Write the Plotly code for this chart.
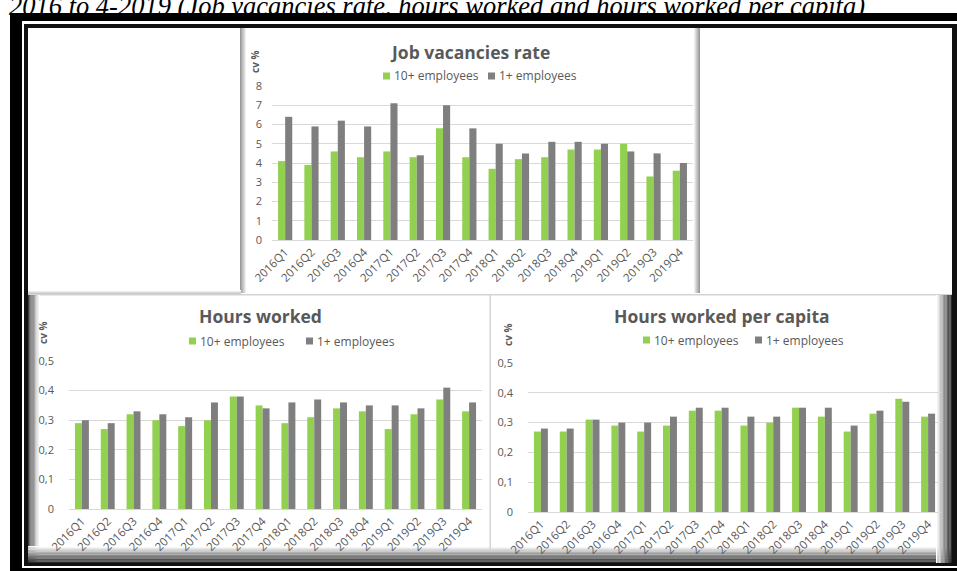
import plotly.graph_objects as go

# ---- data -------------------------------------------------------------
quarters = ["2016Q1", "2016Q2", "2016Q3", "2016Q4",
            "2017Q1", "2017Q2", "2017Q3", "2017Q4",
            "2018Q1", "2018Q2", "2018Q3", "2018Q4",
            "2019Q1", "2019Q2", "2019Q3", "2019Q4"]

series_names = ["10+ employees", "1+ employees"]

# Job vacancies rate, cv %
jv_10 = [4.1, 3.9, 4.6, 4.3, 4.6, 4.3, 5.8, 4.3, 3.7, 4.2, 4.3, 4.7, 4.7, 5.0, 3.3, 3.6]
jv_1 = [6.4, 5.9, 6.2, 5.9, 7.1, 4.4, 7.0, 5.8, 5.0, 4.5, 5.1, 5.1, 5.0, 4.6, 4.5, 4.0]

# Hours worked, cv %
hw_10 = [0.29, 0.27, 0.32, 0.30, 0.28, 0.30, 0.38, 0.35, 0.29, 0.31, 0.34, 0.33, 0.27, 0.32, 0.37, 0.33]
hw_1 = [0.30, 0.29, 0.33, 0.32, 0.31, 0.36, 0.38, 0.34, 0.36, 0.37, 0.36, 0.35, 0.35, 0.34, 0.41, 0.36]

# Hours worked per capita, cv %
hpc_10 = [0.27, 0.27, 0.31, 0.29, 0.27, 0.29, 0.34, 0.34, 0.29, 0.30, 0.35, 0.32, 0.27, 0.33, 0.38, 0.32]
hpc_1 = [0.28, 0.28, 0.31, 0.30, 0.30, 0.32, 0.35, 0.35, 0.32, 0.32, 0.35, 0.35, 0.29, 0.34, 0.37, 0.33]

caption = "2016 to 4-2019 (Job vacancies rate, hours worked and hours worked per capita)"

# ---- styling ----------------------------------------------------------
W, H = 957, 571
GREEN = "#92D050"
GREY = "#7F7F7F"
TXT = "#595959"
GRID = "#D9D9D9"
FONT = "Open Sans"


def fx(px):
    return px / W


def fy(py):
    return 1 - py / H


panels = [
    dict(title="Job vacancies rate", a=jv_10, b=jv_1, rng=[0, 8], dtick=1,
         xpx=(272, 693), ypx=(86, 240), title_xy=(470, 52), cv_xy=(255, 62),
         leg=(383, 488), leg_y=76, standoff=9),
    dict(title="Hours worked", a=hw_10, b=hw_1, rng=[0, 0.5], dtick=0.1,
         xpx=(69, 482), ypx=(361, 509), title_xy=(260, 316), cv_xy=(43, 333),
         leg=(189, 306), leg_y=341, standoff=14),
    dict(title="Hours worked per capita", a=hpc_10, b=hpc_1, rng=[0, 0.5], dtick=0.1,
         xpx=(528, 941), ypx=(363, 512), title_xy=(722, 316), cv_xy=(508, 335),
         leg=(643, 755), leg_y=340, standoff=14),
]

fig = go.Figure()
shapes = []
annotations = []


def rect(x0, y0, x1, y1, color):
    shapes.append(dict(type="rect", xref="paper", yref="paper",
                       x0=fx(x0), x1=fx(x1), y0=fy(y1), y1=fy(y0),
                       fillcolor=color, line=dict(width=0), layer="below"))


def mix(c0, c1, t):
    a = [int(c0[i:i + 2], 16) for i in (1, 3, 5)]
    b = [int(c1[i:i + 2], 16) for i in (1, 3, 5)]
    return "rgb(%d,%d,%d)" % tuple(round(a[k] + (b[k] - a[k]) * t) for k in range(3))


def gradient(x0, y0, x1, y1, c0, c1, n, horizontal):
    for i in range(n):
        t = i / (n - 1)
        if horizontal:
            xa = x0 + (x1 - x0) * i / n
            xb = x0 + (x1 - x0) * (i + 1) / n
            rect(xa, y0, xb, y1, mix(c0, c1, t))
        else:
            ya = y0 + (y1 - y0) * i / n
            yb = y0 + (y1 - y0) * (i + 1) / n
            rect(x0, ya, x1, yb, mix(c0, c1, t))


# ---- page frame -------------------------------------------------------
rect(10, 13, 957, 571, "#000000")
rect(22, 21, 957, 568, "#FFFFFF")
rect(24, 24, 957, 566, "#111111")
rect(28, 28, 952, 563, "#FFFFFF")

# top row: blank boxes either side of the vacancies chart
rect(28, 28, 241, 293, "#FFFFFF")
gradient(240, 28, 247, 293, "#9A9A9A", "#FFFFFF", 7, True)
rect(700, 28, 952, 293, "#FFFFFF")
gradient(693, 28, 700, 293, "#FFFFFF", "#9A9A9A", 7, True)
gradient(28, 290, 241, 295, "#FFFFFF", "#B5B5B5", 5, False)
rect(28, 294, 952, 295.5, "#D4D4D4")

# bottom row panels with edge shading
gradient(28, 295, 40, 563, "#3A3A3A", "#FFFFFF", 10, True)
gradient(28, 546, 952, 563, "#FFFFFF", "#2A2A2A", 12, False)
gradient(936, 295, 952, 563, "#FFFFFF", "#2A2A2A", 12, True)
rect(489.5, 295, 491, 550, "#D4D4D4")

# ---- charts -----------------------------------------------------------
for k, p in enumerate(panels, start=1):
    xa = "x" if k == 1 else "x%d" % k
    ya = "y" if k == 1 else "y%d" % k
    for name, vals, col in ((series_names[0], p["a"], GREEN),
                            (series_names[1], p["b"], GREY)):
        fig.add_trace(go.Bar(x=quarters, y=vals, name=name, marker_color=col,
                             marker_line_width=0, xaxis=xa, yaxis=ya,
                             showlegend=False))
    xkey = "xaxis" if k == 1 else "xaxis%d" % k
    ykey = "yaxis" if k == 1 else "yaxis%d" % k
    fig.update_layout(**{
        xkey: dict(domain=[fx(p["xpx"][0]), fx(p["xpx"][1])], anchor=ya,
                   tickangle=-45, tickfont=dict(family=FONT, size=11.5, color=TXT),
                   showline=True, linecolor=GRID, linewidth=1, ticks="",
                   showgrid=False, fixedrange=True, automargin=False),
        ykey: dict(domain=[fy(p["ypx"][1]), fy(p["ypx"][0])], anchor=xa,
                   range=p["rng"], dtick=p["dtick"], showgrid=True,
                   gridcolor=GRID, gridwidth=1, zeroline=False, ticks="",
                   showline=False, ticklabelstandoff=p["standoff"],
                   tickfont=dict(family=FONT, size=11, color=TXT),
                   fixedrange=True, automargin=False),
    })
    # chart title
    annotations.append(dict(text="<b>%s</b>" % p["title"], xref="paper", yref="paper",
                            x=fx(p["title_xy"][0]), y=fy(p["title_xy"][1]),
                            xanchor="center", yanchor="middle", showarrow=False,
                            font=dict(family=FONT, size=17.5, color=TXT)))
    # axis unit label
    annotations.append(dict(text="<b>cv %</b>", xref="paper", yref="paper",
                            x=fx(p["cv_xy"][0]), y=fy(p["cv_xy"][1]),
                            xanchor="center", yanchor="middle", showarrow=False,
                            textangle=-90,
                            font=dict(family=FONT, size=10, color=TXT)))
    # legend: colour key squares with labels
    for sx, name, col in ((p["leg"][0], series_names[0], GREEN),
                          (p["leg"][1], series_names[1], GREY)):
        ly = p["leg_y"]
        shapes.append(dict(type="rect", xref="paper", yref="paper",
                           x0=fx(sx), x1=fx(sx + 7), y0=fy(ly + 3.5), y1=fy(ly - 3.5),
                           fillcolor=col, line=dict(width=0)))
        annotations.append(dict(text=name, xref="paper", yref="paper",
                                x=fx(sx + 9), y=fy(ly), xanchor="left",
                                yanchor="middle", showarrow=False,
                                font=dict(family=FONT, size=12, color=TXT)))

# document caption running off the top edge
annotations.append(dict(text="<i>%s</i>" % caption, xref="paper", yref="paper",
                        x=fx(7), y=fy(23), xanchor="left", yanchor="bottom",
                        showarrow=False,
                        font=dict(family="Liberation Serif", size=26.5, color="#000000")))

fig.update_layout(
    width=W, height=H,
    margin=dict(l=0, r=0, t=0, b=0, autoexpand=False),
    paper_bgcolor="#FFFFFF",
    plot_bgcolor="rgba(0,0,0,0)",
    separators=", ",
    barmode="group",
    bargap=0.46,
    bargroupgap=0,
    shapes=shapes,
    annotations=annotations,
)

fig.write_html("out.html")
